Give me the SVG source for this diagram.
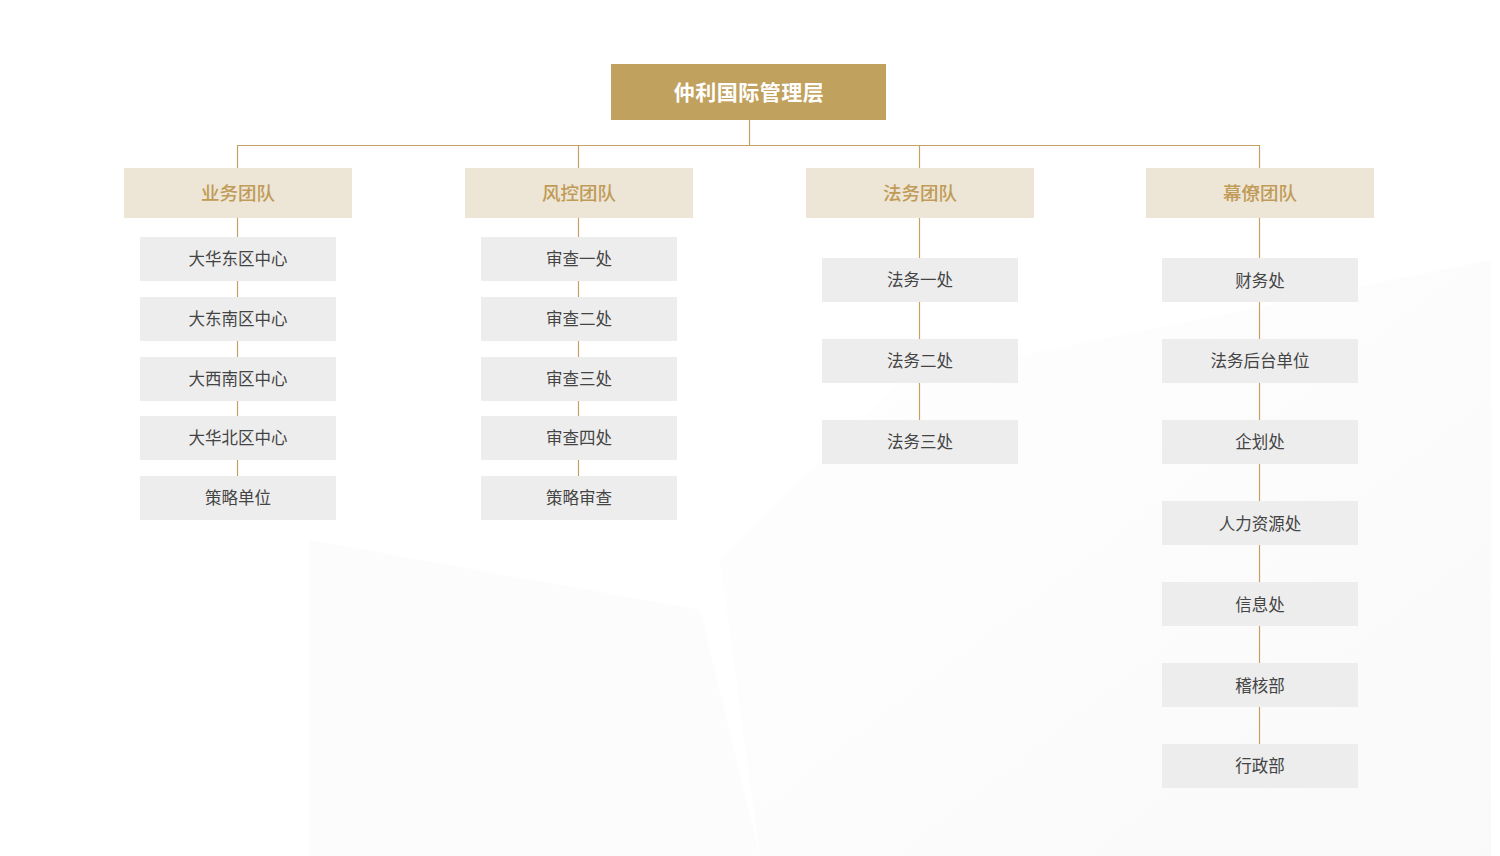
<svg xmlns="http://www.w3.org/2000/svg" width="1500" height="856" viewBox="0 0 1500 856">
<defs>
<style>
.root{fill:#c1a15e}
.rootT{fill:#ffffff;font-family:"Noto Sans CJK SC","Noto Sans",sans-serif;font-size:21px;font-weight:bold;text-anchor:middle;dominant-baseline:central;letter-spacing:0.5px}
.team{fill:#ede5d6}
.teamT{fill:#c09b57;font-family:"Noto Sans CJK SC","Noto Sans",sans-serif;font-size:18.5px;font-weight:500;text-anchor:middle;dominant-baseline:central}
.unit{fill:#ededed}
.unitT{fill:#444444;font-family:"Noto Sans CJK SC","Noto Sans",sans-serif;font-size:16.5px;text-anchor:middle;dominant-baseline:central}
.ln{stroke:#c4a062;stroke-width:1.2;fill:none}
</style>
<linearGradient id="bg" x1="0" y1="0" x2="1" y2="1">
<stop offset="0" stop-color="#ffffff"/>
<stop offset="1" stop-color="#f5f5f5"/>
</linearGradient>
</defs>
<rect width="1500" height="856" fill="#ffffff"/>
<polygon points="310,540 700,610 760,856 310,856" fill="#fcfcfc"/>
<polygon points="720,560 900,380 1491,260 1491,856 760,856" fill="url(#bg)" opacity="0.6"/>
<g id="connectors">
<path class="ln" d="M749.5,120 V145.5 M237.5,168 V145.5 H1259.5 V168 M578.5,145.5 V168 M919.5,145.5 V168"/>
<path class="ln" d="M237.5,218 V476"/>
<path class="ln" d="M578.5,218 V476"/>
<path class="ln" d="M919.5,218 V420"/>
<path class="ln" d="M1259.5,218 V744"/>
</g>
<g id="root"><rect class="root" x="611" y="64" width="275" height="56"/><text class="rootT" x="749" y="91">仲利国际管理层</text></g>
<g id="team1"><rect class="team" x="124" y="168" width="228" height="50"/><text class="teamT" x="238" y="192">业务团队</text></g>
<g id="team2"><rect class="team" x="465" y="168" width="228" height="50"/><text class="teamT" x="579" y="192">风控团队</text></g>
<g id="team3"><rect class="team" x="806" y="168" width="228" height="50"/><text class="teamT" x="920" y="192">法务团队</text></g>
<g id="team4"><rect class="team" x="1146" y="168" width="228" height="50"/><text class="teamT" x="1260" y="192">幕僚团队</text></g>

<g id="u1a"><rect class="unit" x="140" y="237" width="196" height="44"/><text class="unitT" x="238" y="258">大华东区中心</text></g>
<g id="u1b"><rect class="unit" x="140" y="297" width="196" height="44"/><text class="unitT" x="238" y="318">大东南区中心</text></g>
<g id="u1c"><rect class="unit" x="140" y="357" width="196" height="44"/><text class="unitT" x="238" y="378">大西南区中心</text></g>
<g id="u1d"><rect class="unit" x="140" y="416" width="196" height="44"/><text class="unitT" x="238" y="437">大华北区中心</text></g>
<g id="u1e"><rect class="unit" x="140" y="476" width="196" height="44"/><text class="unitT" x="238" y="497">策略单位</text></g>

<g id="u2a"><rect class="unit" x="481" y="237" width="196" height="44"/><text class="unitT" x="579" y="258">审查一处</text></g>
<g id="u2b"><rect class="unit" x="481" y="297" width="196" height="44"/><text class="unitT" x="579" y="318">审查二处</text></g>
<g id="u2c"><rect class="unit" x="481" y="357" width="196" height="44"/><text class="unitT" x="579" y="378">审查三处</text></g>
<g id="u2d"><rect class="unit" x="481" y="416" width="196" height="44"/><text class="unitT" x="579" y="437">审查四处</text></g>
<g id="u2e"><rect class="unit" x="481" y="476" width="196" height="44"/><text class="unitT" x="579" y="497">策略审查</text></g>

<g id="u3a"><rect class="unit" x="822" y="258" width="196" height="44"/><text class="unitT" x="920" y="279">法务一处</text></g>
<g id="u3b"><rect class="unit" x="822" y="339" width="196" height="44"/><text class="unitT" x="920" y="360">法务二处</text></g>
<g id="u3c"><rect class="unit" x="822" y="420" width="196" height="44"/><text class="unitT" x="920" y="441">法务三处</text></g>

<g id="u4a"><rect class="unit" x="1162" y="258" width="196" height="44"/><text class="unitT" x="1260" y="280">财务处</text></g>
<g id="u4b"><rect class="unit" x="1162" y="339" width="196" height="44"/><text class="unitT" x="1260" y="360">法务后台单位</text></g>
<g id="u4c"><rect class="unit" x="1162" y="420" width="196" height="44"/><text class="unitT" x="1260" y="441">企划处</text></g>
<g id="u4d"><rect class="unit" x="1162" y="501" width="196" height="44"/><text class="unitT" x="1260" y="523">人力资源处</text></g>
<g id="u4e"><rect class="unit" x="1162" y="582" width="196" height="44"/><text class="unitT" x="1260" y="604">信息处</text></g>
<g id="u4f"><rect class="unit" x="1162" y="663" width="196" height="44"/><text class="unitT" x="1260" y="685">稽核部</text></g>
<g id="u4g"><rect class="unit" x="1162" y="744" width="196" height="44"/><text class="unitT" x="1260" y="765">行政部</text></g>
</svg>
